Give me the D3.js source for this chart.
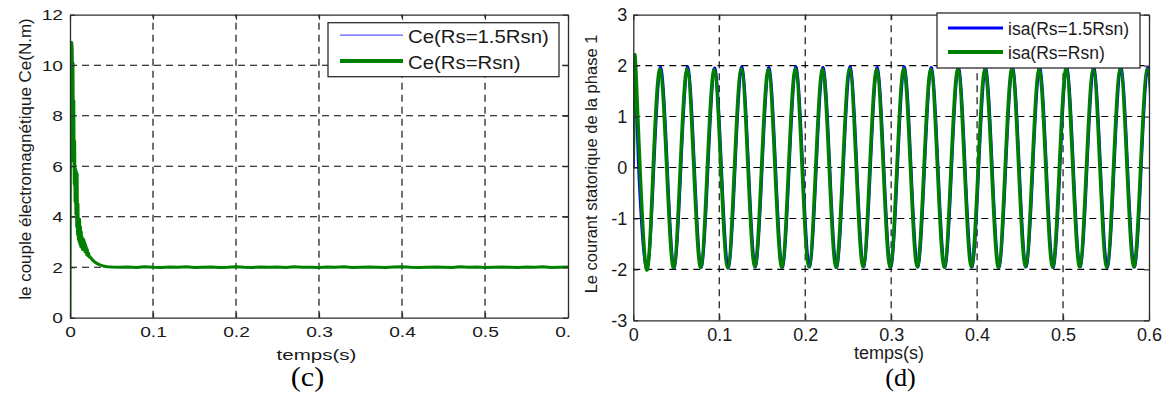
<!DOCTYPE html>
<html>
<head>
<meta charset="utf-8">
<script src="https://cdn.jsdelivr.net/npm/d3@7"></script>
<style>
  body { margin: 0; background: #fff; }
  svg { display: block; }
</style>
</head>
<body>
<svg id="fig" width="1166" height="396"></svg>
<script>
// ---------- Electromagnetic torque Ce (N.m) ----------
const ceTime = [
  0, 0.0003, 0.0008, 0.0014, 0.0020, 0.0026, 0.0031, 0.0036, 0.0041, 0.0046,
  0.0051, 0.0056, 0.0061, 0.0066, 0.0071, 0.0076, 0.0081, 0.0086, 0.0091, 0.0096,
  0.0101, 0.0106, 0.0111, 0.0116, 0.0121, 0.0126, 0.0131, 0.0136, 0.0141, 0.0146,
  0.0151, 0.0156, 0.0161, 0.0166, 0.0171, 0.0176, 0.0181, 0.0186, 0.0191, 0.0196,
  0.0201, 0.0208, 0.0216, 0.0224, 0.0232, 0.0240, 0.0260, 0.0280, 0.0300, 0.0330,
  0.0360, 0.0400, 0.0450, 0.0500,
  0.06, 0.07, 0.08, 0.09, 0.10, 0.11, 0.12, 0.13, 0.14, 0.15,
  0.16, 0.17, 0.18, 0.19, 0.20, 0.21, 0.22, 0.23, 0.24, 0.25,
  0.26, 0.27, 0.28, 0.29, 0.30, 0.31, 0.32, 0.33, 0.34, 0.35,
  0.36, 0.37, 0.38, 0.39, 0.40, 0.41, 0.42, 0.43, 0.44, 0.45,
  0.46, 0.47, 0.48, 0.49, 0.50, 0.51, 0.52, 0.53, 0.54, 0.55,
  0.56, 0.57, 0.58, 0.59, 0.60
];
const ceRs15 = [
  0, 4.0, 8.6, 10.1, 10.7, 10.5, 9.2, 9.8, 6.0, 8.3,
  5.2, 6.8, 4.5, 5.8, 4.0, 5.7, 3.6, 5.5, 3.3, 4.4,
  3.1, 3.8, 3.0, 3.8, 2.9, 3.5, 2.8, 3.3, 2.8, 3.2,
  2.7, 3.1, 2.8, 3.0, 2.7, 2.95, 2.6, 2.85, 2.6, 2.75,
  2.5, 2.65, 2.45, 2.52, 2.4, 2.4, 2.32, 2.25, 2.2, 2.14,
  2.09, 2.05, 2.02, 2.01,
  2.00, 2.01, 2.00, 1.99, 2.01, 2.00, 2.02, 1.99, 2.00, 2.01,
  2.00, 1.99, 2.01, 2.00, 2.01, 2.00, 1.99, 2.01, 2.00, 2.01,
  2.00, 1.99, 2.01, 2.00, 2.00, 2.01, 1.99, 2.00, 2.01, 2.00,
  1.99, 2.01, 2.00, 2.01, 2.00, 1.99, 2.01, 2.00, 2.00, 2.01,
  1.99, 2.00, 2.01, 2.00, 1.99, 2.01, 2.00, 2.01, 1.99, 2.00,
  2.01, 2.00, 1.99, 2.01, 2.00
];
const ceRsn = [
  0, 4.2, 8.9, 10.3, 10.9, 10.7, 9.4, 10.1, 6.2, 8.6,
  5.3, 7.0, 4.6, 5.9, 4.1, 5.8, 3.6, 5.7, 3.3, 4.5,
  3.1, 3.9, 3.0, 3.9, 2.9, 3.6, 2.8, 3.4, 2.8, 3.2,
  2.7, 3.1, 2.8, 3.1, 2.7, 3.0, 2.6, 2.9, 2.6, 2.8,
  2.5, 2.7, 2.45, 2.55, 2.4, 2.42, 2.33, 2.26, 2.2, 2.14,
  2.09, 2.05, 2.02, 2.01,
  2.00, 2.01, 1.99, 2.02, 2.00, 1.99, 2.01, 2.00, 2.02, 1.99,
  2.00, 2.01, 1.99, 2.00, 2.02, 2.00, 1.99, 2.01, 2.00, 2.01,
  1.99, 2.02, 2.00, 2.00, 1.99, 2.01, 2.00, 2.02, 1.99, 2.00,
  2.01, 2.00, 1.99, 2.01, 2.02, 2.00, 1.99, 2.00, 2.01, 2.00,
  1.99, 2.02, 2.00, 2.01, 1.99, 2.00, 2.01, 2.00, 1.99, 2.01,
  2.00, 2.02, 1.99, 2.00, 2.01
];

// ---------- Stator current of phase 1, isa (A) ----------
const isaTime = [
  0, 0.0010, 0.0020, 0.0045, 0.0070,
  0.0153, 0.0232, 0.0311, 0.0389, 0.0468, 0.0547, 0.0626, 0.0704,
  0.0783, 0.0862, 0.0941, 0.1019, 0.1098, 0.1177, 0.1256, 0.1334,
  0.1413, 0.1492, 0.1571, 0.1649, 0.1728, 0.1807, 0.1886, 0.1964,
  0.2043, 0.2122, 0.2201, 0.2279, 0.2358, 0.2437, 0.2516, 0.2594,
  0.2673, 0.2752, 0.2831, 0.2909, 0.2988, 0.3067, 0.3146, 0.3224,
  0.3303, 0.3382, 0.3461, 0.3539, 0.3618, 0.3697, 0.3776, 0.3854,
  0.3933, 0.4012, 0.4091, 0.4169, 0.4248, 0.4327, 0.4406, 0.4484,
  0.4563, 0.4642, 0.4721, 0.4799, 0.4878, 0.4957, 0.5036, 0.5114,
  0.5193, 0.5272, 0.5351, 0.5429, 0.5508, 0.5587, 0.5666, 0.5744,
  0.5823, 0.5902, 0.5981, 0.6059
];
const isaRs15 = [
  0.0, 1.6, 2.05, 0.9, -0.3,
  -1.98, -0.25, 1.95, 0.25, -1.96, -0.24, 1.96, 0.26,
  -1.95, -0.25, 1.94, 0.24, -1.96, -0.26, 1.96, 0.25,
  -1.94, -0.25, 1.95, 0.24, -1.95, -0.24, 1.96, 0.25,
  -1.94, -0.25, 1.95, 0.26, -1.95, -0.26, 1.96, 0.25,
  -1.94, -0.24, 1.95, 0.24, -1.95, -0.25, 1.96, 0.27,
  -1.94, -0.25, 1.95, 0.24, -1.95, -0.24, 1.96, 0.25,
  -1.94, -0.26, 1.95, 0.25, -1.95, -0.23, 1.96, 0.24,
  -1.94, -0.25, 1.95, 0.26, -1.95, -0.25, 1.96, 0.23,
  -1.94, -0.24, 1.95, 0.25, -1.95, -0.25, 1.96, 0.26,
  -1.94, -0.26, 1.95, 0.25
];
const isaRsn = [
  0.15, 1.5, 2.2, 1.3, 0.3,
  -2.00, 0.02, 1.93, -0.02, -1.97, 0.01, 1.94, 0.00,
  -1.96, 0.02, 1.92, -0.01, -1.97, 0.00, 1.94, 0.01,
  -1.95, 0.00, 1.93, -0.02, -1.96, 0.01, 1.94, 0.00,
  -1.95, 0.00, 1.93, 0.01, -1.96, -0.01, 1.94, 0.00,
  -1.95, 0.01, 1.93, -0.01, -1.96, 0.00, 1.94, 0.02,
  -1.95, 0.00, 1.93, -0.01, -1.96, 0.01, 1.94, 0.00,
  -1.95, -0.01, 1.93, 0.00, -1.96, 0.02, 1.94, -0.01,
  -1.95, 0.00, 1.93, 0.01, -1.96, 0.00, 1.94, -0.02,
  -1.95, 0.01, 1.93, 0.00, -1.96, 0.00, 1.94, 0.01,
  -1.95, -0.01, 1.93, 0.00
];

// ---------- Axis ticks and labels ----------
const timeTicks = [0, 0.1, 0.2, 0.3, 0.4, 0.5, 0.6];
const ceTicks = [0, 2, 4, 6, 8, 10, 12];
const isaTicks = [-3, -2, -1, 0, 1, 2, 3];
const ceLegend = ["Ce(Rs=1.5Rsn)", "Ce(Rs=Rsn)"];
const isaLegend = ["isa(Rs=1.5Rsn)", "isa(Rs=Rsn)"];
const ceAxisTitle = "le couple électromagnétique Ce(N.m)";
const isaAxisTitle = "Le courant statorique de la phase 1";
const timeTitle = "temps(s)";
const panelTags = ["(c)", "(d)"];

const SANS = "'Liberation Sans', Arial, Helvetica, sans-serif";
const SERIF = "'Liberation Serif', 'Times New Roman', serif";
const BLUE = "#0000ff";
const THIN_BLUE = "#5a5aff";
const GREEN = "#008000";
const FRAME = "#2b2b2b";

const svg = d3.select("#fig");
const defs = svg.append("defs");

// text helper with optional horizontal stretch
function label(g, x, y, str, opts) {
  const sx = opts.sx || 1;
  return g.append("text")
    .attr("transform", `translate(${x},${y}) scale(${sx},1)`)
    .attr("text-anchor", opts.anchor || "start")
    .attr("font-family", opts.family || SANS)
    .attr("font-size", opts.size)
    .attr("fill", opts.fill || "#1a1a1a")
    .text(str);
}

function drawPanel(o) {
  const root = svg.append("g");
  if (o.clipWidth) {
    defs.append("clipPath").attr("id", o.id + "-fig")
      .append("rect").attr("x", o.clipX).attr("y", 0)
      .attr("width", o.clipWidth).attr("height", 396);
    root.attr("clip-path", `url(#${o.id}-fig)`);
  }
  const x = d3.scaleLinear().domain([0, 0.6]).range([o.left, o.right]);
  const y = d3.scaleLinear().domain(o.yDomain).range([o.bottom, o.top]);

  defs.append("clipPath").attr("id", o.id + "-plot")
    .append("rect").attr("x", o.left).attr("y", o.top)
    .attr("width", o.right - o.left).attr("height", o.bottom - o.top);

  // dashed grid
  const grid = root.append("g")
    .attr("stroke", "#000").attr("stroke-width", 1.1)
    .attr("stroke-dasharray", "7,5").attr("fill", "none");
  grid.selectAll("line.v").data(timeTicks.slice(1, -1)).join("line")
    .attr("class", "v")
    .attr("x1", d => x(d)).attr("x2", d => x(d))
    .attr("y1", o.bottom).attr("y2", o.top);
  grid.selectAll("line.h").data(o.yTicks.slice(1, -1)).join("line")
    .attr("class", "h")
    .attr("x1", o.left).attr("x2", o.right)
    .attr("y1", d => y(d)).attr("y2", d => y(d));

  // series
  const lines = root.append("g").attr("clip-path", `url(#${o.id}-plot)`);
  o.series.forEach(s => {
    const gen = d3.line()
      .x((d, i) => x(o.time[i]))
      .y(d => y(d))
      .curve(o.curve);
    lines.append("path").datum(s.values)
      .attr("d", gen)
      .attr("fill", "none")
      .attr("stroke", s.color)
      .attr("stroke-width", s.width)
      .attr("stroke-linejoin", "round");
  });

  // axes (ticks pointing inward, on all four sides)
  const fmt = d => String(d);
  const axB = root.append("g").attr("transform", `translate(0,${o.bottom})`)
    .call(d3.axisBottom(x).tickValues(timeTicks).tickFormat(fmt)
      .tickSizeInner(-5).tickSizeOuter(0).tickPadding(o.xPad));
  const axL = root.append("g").attr("transform", `translate(${o.left},0)`)
    .call(d3.axisLeft(y).tickValues(o.yTicks).tickFormat(fmt)
      .tickSizeInner(-5).tickSizeOuter(0).tickPadding(o.yPad));
  const axT = root.append("g").attr("transform", `translate(0,${o.top})`)
    .call(d3.axisTop(x).tickValues(timeTicks).tickFormat("")
      .tickSizeInner(-5).tickSizeOuter(0));
  const axR = root.append("g").attr("transform", `translate(${o.right},0)`)
    .call(d3.axisRight(y).tickValues(o.yTicks).tickFormat("")
      .tickSizeInner(-5).tickSizeOuter(0));
  [axB, axL, axT, axR].forEach(a => {
    a.selectAll("path.domain").attr("stroke", FRAME).attr("stroke-width", 1.3);
    a.selectAll(".tick line").attr("stroke", FRAME).attr("stroke-width", 1.2);
  });
  axB.selectAll("text")
    .attr("font-family", SANS).attr("font-size", o.tickSize).attr("fill", "#1a1a1a")
    .attr("transform", `scale(${o.sx},1)`);
  axL.selectAll("text")
    .attr("font-family", SANS).attr("font-size", o.tickSize).attr("fill", "#1a1a1a")
    .attr("x", -o.yPad / o.sx)
    .attr("transform", `scale(${o.sx},1)`);

  // legend
  const lg = root.append("g");
  lg.append("rect")
    .attr("x", o.legend.x).attr("y", o.legend.y)
    .attr("width", o.legend.w).attr("height", o.legend.h)
    .attr("fill", "#fff").attr("stroke", FRAME).attr("stroke-width", 1.3);
  o.series.forEach((s, i) => {
    const ly = o.legend.rows[i];
    lg.append("line")
      .attr("x1", o.legend.lx0).attr("x2", o.legend.lx1)
      .attr("y1", ly).attr("y2", ly)
      .attr("stroke", s.color).attr("stroke-width", s.legendWidth);
    label(lg, o.legend.tx, ly + o.legend.baseOff, o.names[i],
      { size: o.legend.size, sx: o.legend.sx });
  });

  // axis titles and panel tag
  root.append("text")
    .attr("transform", `translate(${o.yTitle.x},${o.yTitle.y}) rotate(-90)`)
    .attr("text-anchor", "middle")
    .attr("dominant-baseline", "central")
    .attr("font-family", SANS).attr("font-size", o.yTitle.size)
    .attr("fill", "#1a1a1a")
    .text(o.yTitle.text);
  label(root, o.xTitle.x, o.xTitle.y, timeTitle,
    { size: o.xTitle.size, sx: o.xTitle.sx, anchor: "middle" });
  label(root, o.tag.x, o.tag.y, o.tag.text,
    { size: o.tag.size, sx: o.tag.sx, anchor: "middle", family: SERIF, fill: "#000" });
}

drawPanel({
  id: "ce",
  clipX: 0, clipWidth: 572,
  left: 70, right: 568, top: 14.7, bottom: 317.7,
  yDomain: [0, 12], yTicks: ceTicks,
  time: ceTime,
  curve: d3.curveLinear,
  series: [
    { values: ceRs15, color: THIN_BLUE, width: 1.2, legendWidth: 1.2 },
    { values: ceRsn, color: GREEN, width: 3, legendWidth: 4 }
  ],
  names: ceLegend,
  tickSize: 15, sx: 1.28, xPad: 9, yPad: 7,
  legend: { x: 328, y: 22.7, w: 231, h: 54, rows: [35.2, 61],
            lx0: 340, lx1: 403, tx: 408, baseOff: 7.5, size: 18.5, sx: 1.1 },
  yTitle: { x: 25.5, y: 159, size: 17, text: ceAxisTitle },
  xTitle: { x: 316.5, y: 359.5, size: 15, sx: 1.37 },
  tag: { x: 307.5, y: 385.5, text: panelTags[0], size: 27, sx: 1.12 }
});

drawPanel({
  id: "isa",
  left: 633.3, right: 1149, top: 14.7, bottom: 320.3,
  yDomain: [-3, 3], yTicks: isaTicks,
  time: isaTime,
  curve: d3.curveNatural,
  series: [
    { values: isaRs15, color: BLUE, width: 3, legendWidth: 3 },
    { values: isaRsn, color: GREEN, width: 3.5, legendWidth: 4 }
  ],
  names: isaLegend,
  tickSize: 18, sx: 1, xPad: 8, yPad: 6,
  legend: { x: 937, y: 13, w: 203, h: 55, rows: [28, 52],
            lx0: 948, lx1: 1003, tx: 1008, baseOff: 6.5, size: 17.5, sx: 1 },
  yTitle: { x: 591, y: 164, size: 16.5, text: isaAxisTitle },
  xTitle: { x: 889, y: 359, size: 18, sx: 1 },
  tag: { x: 900.5, y: 386, text: panelTags[1], size: 25, sx: 1.05 }
});
</script>
</body>
</html>
